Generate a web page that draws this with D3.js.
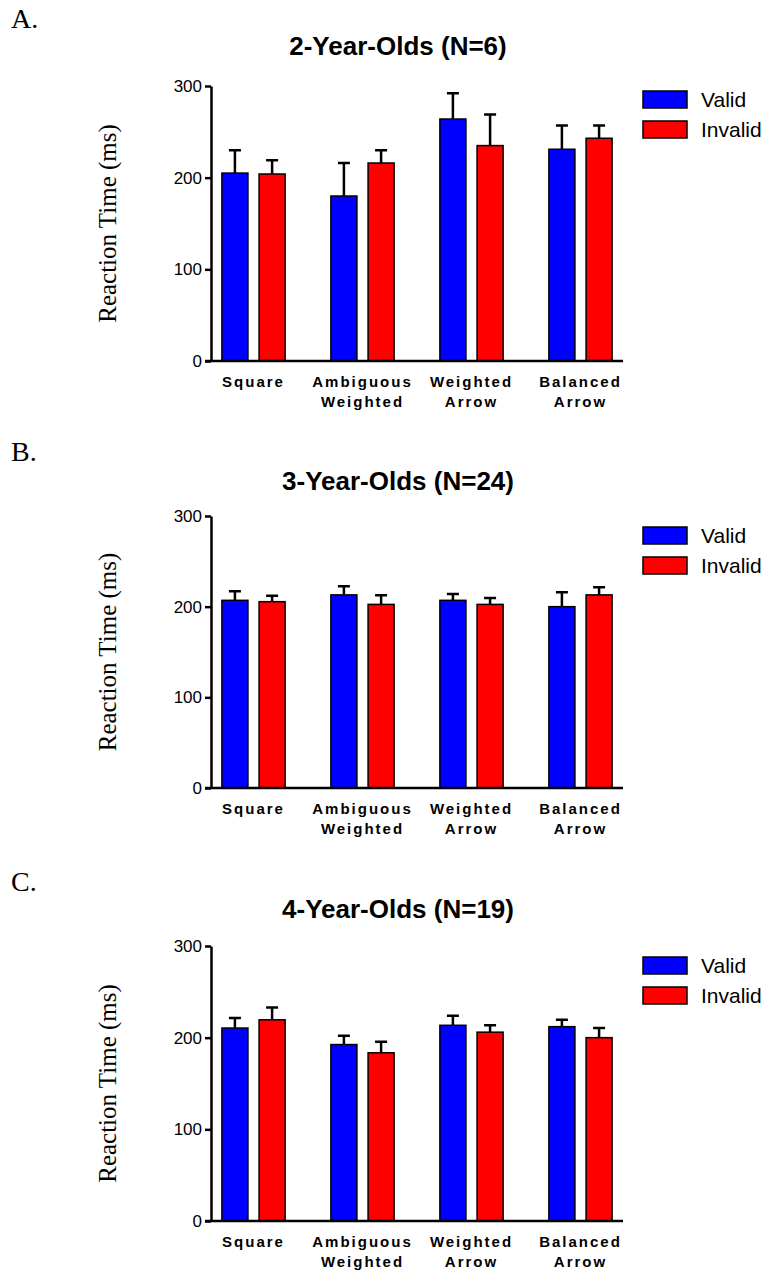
<!DOCTYPE html>
<html>
<head>
<meta charset="utf-8">
<script src="https://cdn.jsdelivr.net/npm/d3@7"></script>
<style>
  body { margin: 0; background: #fff; }
  svg { display: block; }
</style>
</head>
<body>
<div id="chart"></div>
<script>
// data
const categories = ["Square", "Ambiguous\nWeighted", "Weighted\nArrow", "Balanced\nArrow"];
const seriesNames = ["Valid", "Invalid"];
const yTicks = [0, 100, 200, 300];

const panelLetters = ["A.", "B.", "C."];
const panelTitles = ["2-Year-Olds (N=6)", "3-Year-Olds (N=24)", "4-Year-Olds (N=19)"];

const validA = [205, 180, 264, 231];
const validErrA = [25, 36, 28, 26];
const invalidA = [204, 216, 235, 243];
const invalidErrA = [15, 14, 34, 14];

const validB = [207, 213, 207, 200];
const validErrB = [10, 9.5, 7, 16];
const invalidB = [205.5, 202.5, 202.5, 213];
const invalidErrB = [6.5, 10, 7, 8.5];

const validC = [210.5, 192.5, 213.5, 212];
const validErrC = [11, 9.5, 10.5, 7.5];
const invalidC = [219.5, 183.5, 206, 200];
const invalidErrC = [13.5, 12, 7.5, 10.5];

const colors = { Valid: "#0000ff", Invalid: "#ff0000" };

const W = 767, H = 1275;
const svg = d3.select("#chart").append("svg")
  .attr("width", W).attr("height", H);

// layout per panel (top = y of 300, bottom = y of 0)
const panels = [
  { top: 86,  bottom: 361,  letterY: 28,  titleY: 55,  legendY: 91,
    valid: validA, validErr: validErrA, invalid: invalidA, invalidErr: invalidErrA },
  { top: 516, bottom: 788,  letterY: 461, titleY: 490, legendY: 527,
    valid: validB, validErr: validErrB, invalid: invalidB, invalidErr: invalidErrB },
  { top: 946, bottom: 1221, letterY: 891, titleY: 918, legendY: 957,
    valid: validC, validErr: validErrC, invalid: invalidC, invalidErr: invalidErrC }
];

const left = 211, right = 623;

const x0 = d3.scaleBand()
  .domain(categories)
  .range([left, right])
  .paddingInner(0.42)
  .paddingOuter(0.1);

const x1 = d3.scaleBand()
  .domain(seriesNames)
  .range([0, x0.bandwidth()])
  .paddingInner(0.3);

panels.forEach((p, i) => {
  const g = svg.append("g");

  const y = d3.scaleLinear().domain([0, 300]).range([p.bottom, p.top]);

  const rows = categories.map((c, j) => ({
    cat: c,
    vals: [
      { s: "Valid", v: p.valid[j], e: p.validErr[j] },
      { s: "Invalid", v: p.invalid[j], e: p.invalidErr[j] }
    ]
  }));

  // panel letter
  g.append("text")
    .attr("x", 11).attr("y", p.letterY)
    .attr("font-family", "'Liberation Serif', 'Times New Roman', serif")
    .attr("font-size", 28)
    .text(panelLetters[i]);

  // title
  g.append("text")
    .attr("x", 398).attr("y", p.titleY)
    .attr("text-anchor", "middle")
    .attr("font-family", "'Liberation Sans', Arial, sans-serif")
    .attr("font-weight", "bold")
    .attr("font-size", 26)
    .text(panelTitles[i]);

  // y axis label
  g.append("text")
    .attr("transform", `translate(116,${(p.top + p.bottom) / 2}) rotate(-90)`)
    .attr("text-anchor", "middle")
    .attr("font-family", "'Liberation Serif', 'Times New Roman', serif")
    .attr("font-size", 25)
    .text("Reaction Time (ms)");

  // error bars (upper only)
  const groups = g.selectAll(".grp")
    .data(rows)
    .join("g")
    .attr("transform", d => `translate(${x0(d.cat)},0)`);

  groups.selectAll(".err")
    .data(d => d.vals)
    .join("path")
    .attr("d", d => {
      const cx = x1(d.s) + x1.bandwidth() / 2;
      const yt = y(d.v + d.e);
      return `M${cx},${y(d.v)}V${yt}M${cx - 6},${yt}H${cx + 6}`;
    })
    .attr("stroke", "#000")
    .attr("stroke-width", 2.5)
    .attr("fill", "none");

  // bars
  groups.selectAll(".bar")
    .data(d => d.vals)
    .join("rect")
    .attr("x", d => x1(d.s))
    .attr("y", d => y(d.v))
    .attr("width", x1.bandwidth())
    .attr("height", d => y(0) - y(d.v))
    .attr("fill", d => colors[d.s])
    .attr("stroke", "#000")
    .attr("stroke-width", 1.5);

  // y axis
  const yAxis = g.append("g")
    .attr("transform", `translate(${left},0)`)
    .call(d3.axisLeft(y).tickValues(yTicks).tickSize(6).tickPadding(3).tickSizeOuter(0));
  yAxis.select(".domain").attr("stroke-width", 2.5);
  yAxis.selectAll(".tick line").attr("stroke-width", 2.5);
  yAxis.selectAll(".tick text")
    .attr("font-family", "'Liberation Sans', Arial, sans-serif")
    .attr("font-size", 17)
    .attr("fill", "#000");

  // x axis: baseline line plus category labels
  const xAxis = g.append("g")
    .attr("transform", `translate(0,${y(0)})`)
    .call(d3.axisBottom(x0).tickSize(0).tickSizeOuter(0).tickFormat(""));
  xAxis.select(".domain")
    .attr("d", `M${left - 6},0H${right}`)
    .attr("stroke-width", 2.5);

  xAxis.selectAll(".tick text").remove();
  xAxis.selectAll(".tick").each(function (d) {
    const lines = d.split("\n");
    const t = d3.select(this).append("text")
      .attr("text-anchor", "middle")
      .attr("font-family", "'Liberation Sans', Arial, sans-serif")
      .attr("font-weight", "bold")
      .attr("font-size", 15)
      .attr("letter-spacing", 2)
      .attr("fill", "#000");
    lines.forEach((ln, k) => {
      t.append("tspan").attr("x", 0).attr("y", 26 + k * 20).text(ln);
    });
  });

  // legend
  const leg = g.append("g").attr("transform", `translate(643,${p.legendY})`);
  seriesNames.forEach((s, k) => {
    leg.append("rect")
      .attr("x", 0).attr("y", k * 30)
      .attr("width", 44).attr("height", 17)
      .attr("fill", colors[s])
      .attr("stroke", "#000")
      .attr("stroke-width", 1.5);
    leg.append("text")
      .attr("x", 58).attr("y", k * 30 + 16)
      .attr("font-family", "'Liberation Sans', Arial, sans-serif")
      .attr("font-size", 21)
      .text(s);
  });
});
</script>
</body>
</html>
